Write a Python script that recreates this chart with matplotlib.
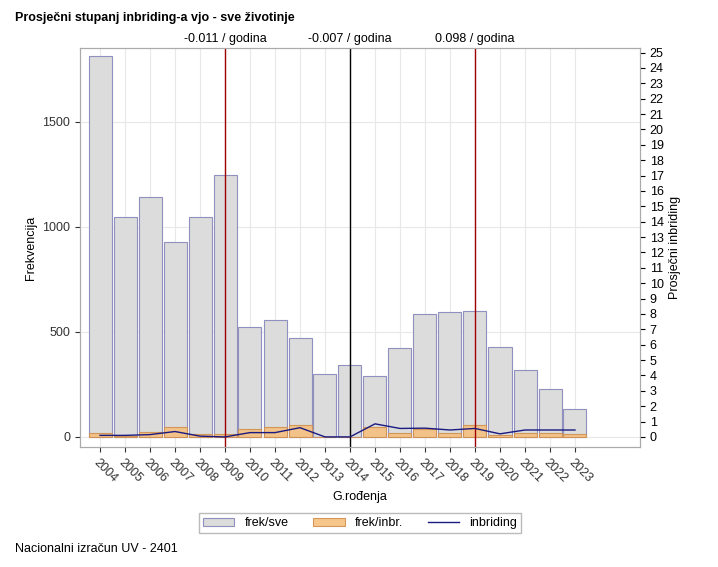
import matplotlib
matplotlib.use("Agg")
import matplotlib.pyplot as plt
import numpy as np

plt.rcParams["font.family"] = "Liberation Sans"

years = [str(y) for y in range(2004, 2024)]
frek_sve = [1810, 1045, 1140, 925, 1045, 1245, 525, 555, 470, 300, 340, 290, 425, 585, 595, 600, 430, 320, 230, 135]
frek_inbr = [20, 5, 25, 45, 12, 12, 40, 45, 55, 0, 0, 45, 20, 40, 20, 55, 10, 20, 20, 15]
inbriding = [0.1, 0.1, 0.15, 0.35, 0.05, 0.0, 0.28, 0.28, 0.6, 0.0, 0.0, 0.85, 0.55, 0.57, 0.45, 0.55, 0.2, 0.45, 0.45, 0.45]
trend_years = ["2009", "2014", "2019"]
trend_labels = ["-0.011 / godina", "-0.007 / godina", "0.098 / godina"]
trend_colors = ["#a00000", "black", "#a00000"]

fig = plt.figure(figsize=(7.18, 5.67), dpi=100)
ax = fig.add_axes([80/718, 1-447/567, 560/718, 399/567])
x = np.arange(len(years))
ax.bar(x, frek_sve, width=0.92, color="#dcdcdc", edgecolor="#9090c0", linewidth=0.8, label="frek/sve", zorder=2)
ax.bar(x, frek_inbr, width=0.92, color="#f5c07f", edgecolor="#d09050", linewidth=0.8, alpha=0.9, label="frek/inbr.", zorder=3)
ax.set_xlim(-0.8, 21.6)
ax.set_ylim(-48, 1850)
ax.set_yticks([0, 500, 1000, 1500])
ax.set_xticks(x)
ax.set_xticklabels(years, rotation=-45, ha="left", rotation_mode="anchor", fontsize=9)
ax.set_xlabel("G.rođenja", fontsize=9)
ax.set_ylabel("Frekvencija", fontsize=9)
ax.tick_params(labelsize=9, colors="#333333")
ax.grid(True, color="#e8e8e8", zorder=0)
ax.set_axisbelow(True)
for s in ax.spines.values():
    s.set_color("#aaaaaa")

ax2 = ax.twinx()
ax2.plot(x, inbriding, color="#1a1a80", linewidth=1, label="inbriding", zorder=4)
ax2.set_ylim(-48*25.3/1850, 25.3)
ax2.set_yticks(range(0, 26))
ax2.tick_params(labelsize=9)
ax2.set_ylabel("Prosječni inbriding", fontsize=9)
for s in ax2.spines.values():
    s.set_color("#aaaaaa")

for ty, tl, tc in zip(trend_years, trend_labels, trend_colors):
    xi = years.index(ty)
    ax.axvline(xi, color=tc, linewidth=1, zorder=5)
    ax.text(xi, 1.008, tl, transform=ax.get_xaxis_transform(), ha="center", va="bottom", fontsize=9)

h1, l1 = ax.get_legend_handles_labels()
h2, l2 = ax2.get_legend_handles_labels()
fig.legend(h1 + h2, l1 + l2, loc="center", bbox_to_anchor=(360/718, 1-523/567), ncol=3, fontsize=9,
           frameon=True, edgecolor="#aaaaaa", fancybox=False, handlelength=2.5,
           borderpad=0.3, handleheight=0.6)

fig.text(15/718, 1-18/567, "Prosječni stupanj inbriding-a vjo - sve životinje", fontsize=9, fontweight="bold", va="center")
fig.text(15/718, 1-549/567, "Nacionalni izračun UV - 2401", fontsize=9, va="center")
fig.savefig("out.png")
